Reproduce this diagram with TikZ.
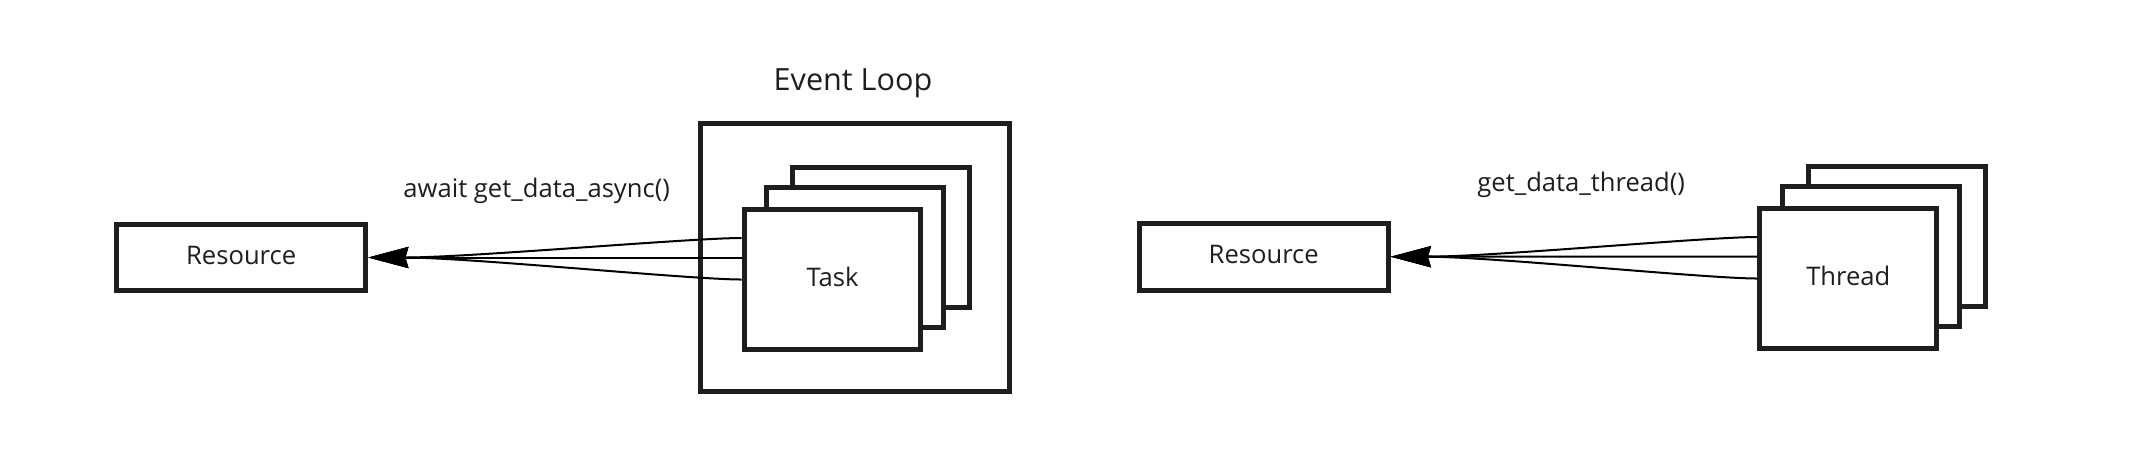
\documentclass[tikz,border=0pt]{standalone}
\usepackage{fontspec}
\setmainfont{Open Sans}
\usetikzlibrary{arrows.meta}
\definecolor{ink}{HTML}{1E1E1E}
\tikzset{
  box/.style={draw = ink, line width = 2.5pt, fill = white, text = ink,
    font = \fontsize{12.8}{15}\selectfont, text height = 9.1pt, text depth = 2.4pt},
  resource/.style={box, minimum width = 124.65pt, minimum height = 33.3pt},
  worker/.style={box, minimum width = 88.4pt, minimum height = 70.2pt},
  caption/.style={anchor = base, text = ink, font = \fontsize{12.8}{15}\selectfont},
  call/.style={black, line width = 1pt, -{Stealth[length = 20pt, width = 10.5pt, inset = 1.5pt]}}
}
\begin{document}
\begin{tikzpicture}[x = 0.5pt, y = -0.5pt]

			\useasboundingbox (0, 0) rectangle (2131, 463);

			% event loop side
			\node[resource] (res1) at (241.2, 257.5) {Resource};
			\node[box, minimum width = 154.2pt, minimum height = 134.1pt] (loop) at (855, 257.6) {};
			\node[caption, font = \fontsize{15.3}{18}\selectfont] (looptitle) at (853, 90.7) {Event Loop};

			\coordinate (taskpos) at (832.5, 279.5);
			\node[worker] (task3) at ([shift = {(48.8, -42)}]taskpos) {};
			\node[worker] (task2) at ([shift = {(22.5, -21.8)}]taskpos) {};
			\node[worker] (task1) at (taskpos) {Task};

			\node[caption] (asynclabel) at (536.7, 197.3) {await get\_data\_async()};

			\draw[call] ([yshift = 20.75pt]task1.west) .. controls +(-52, 0) and +(101, 0) .. (res1.east);
			\draw[call] ([yshift = 11pt]task1.west) -- (res1.east);
			\draw[call] (task1.west) .. controls +(-52, 0) and +(101, 0) .. (res1.east);

			% thread side
			\node[resource] (res2) at (1263.7, 256.7) {Resource};

			\coordinate (threadpos) at (1848.3, 278.5);
			\node[worker] (thread3) at ([shift = {(48.8, -42)}]threadpos) {};
			\node[worker] (thread2) at ([shift = {(22.5, -21.8)}]threadpos) {};
			\node[worker] (thread1) at (threadpos) {Thread};

			\node[caption] (threadlabel) at (1581.2, 191) {get\_data\_thread()};

			\draw[call] ([yshift = 20.75pt]thread1.west) .. controls +(-52, 0) and +(101, 0) .. (res2.east);
			\draw[call] ([yshift = 11pt]thread1.west) -- (res2.east);
			\draw[call] (thread1.west) .. controls +(-52, 0) and +(101, 0) .. (res2.east);
		\end{tikzpicture}
\end{document}
